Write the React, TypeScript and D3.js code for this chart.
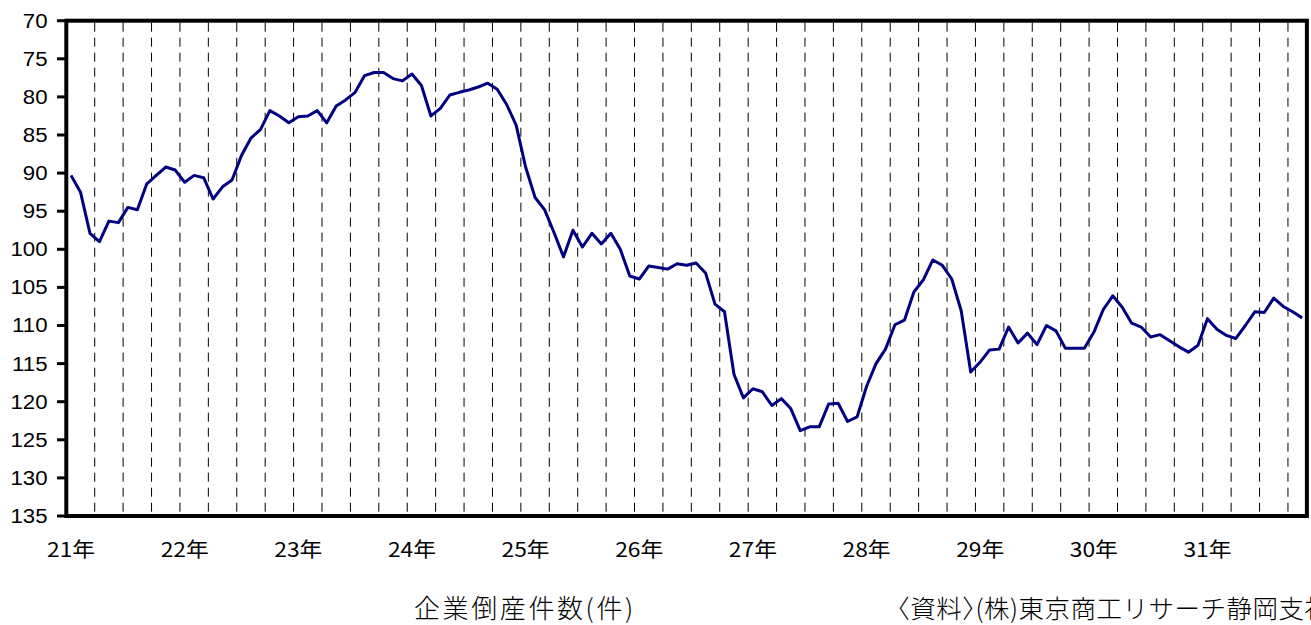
import React from 'react';
import * as d3 from 'd3';

// 企業倒産件数(件) — monthly, 平成21年1月〜31年11月 (axis reversed)
const yearLabels = ['21年', '22年', '23年', '24年', '25年', '26年', '27年', '28年', '29年', '30年', '31年'];
const monthsPerYear = 12;
const values = [
  90.3, 92.5, 97.9, 99.0, 96.3, 96.5, 94.5, 94.8, 91.4, 90.3, 89.2, 89.6,
  91.2, 90.3, 90.6, 93.4, 91.8, 90.9, 87.7, 85.4, 84.3, 81.8, 82.5, 83.4,
  82.6, 82.5, 81.8, 83.4, 81.2, 80.4, 79.4, 77.2, 76.8, 76.8, 77.6, 77.9,
  77.0, 78.5, 82.5, 81.5, 79.75, 79.4, 79.1, 78.7, 78.2, 79.0, 81.0, 83.7,
  89.2, 93.2, 94.8, 97.8, 101.0, 97.5, 99.7, 97.9, 99.3, 97.9, 100.0, 103.5,
  103.9, 102.2, 102.4, 102.6, 101.9, 102.1, 101.8, 103.1, 107.2, 108.2, 116.4, 119.5,
  118.3, 118.7, 120.5, 119.6, 120.9, 123.8, 123.3, 123.3, 120.3, 120.2, 122.6, 122.0,
  118.0, 115.0, 113.1, 109.9, 109.3, 105.6, 104.0, 101.4, 102.1, 103.9, 108.1, 116.1,
  114.8, 113.2, 113.1, 110.2, 112.3, 111.0, 112.5, 110.0, 110.7, 113.0, 113.0, 113.0,
  110.9, 107.9, 106.1, 107.6, 109.7, 110.2, 111.5, 111.2, 112.0, 112.8, 113.5, 112.6,
  109.1, 110.5, 111.3, 111.7, 110.0, 108.2, 108.3, 106.4, 107.5, 108.2, 109.0,
];
const yTicks = [70, 75, 80, 85, 90, 95, 100, 105, 110, 115, 120, 125, 130, 135];
const captionLeft = '企業倒産件数(件)';
const captionRight = '〈資料〉(株)東京商工リサーチ静岡支社';

const W = 1311;
const H = 625;
const plot = { left: 66.3, right: 1306.9, top: 20.7, bottom: 516 };
const stretch = 1.14;

export default function App() {
  const idx = values.map((_, i) => String(i));
  const x = d3.scaleBand<string>().domain(idx).range([plot.left, plot.right]).padding(0);
  const bw = x.bandwidth();
  const cx = (i: number) => (x(String(i)) as number) + bw / 2;
  const y = d3.scaleLinear().domain([70, 135]).range([plot.top, plot.bottom]);

  const line = d3
    .line<number>()
    .x((_, i) => cx(i))
    .y((d) => y(d));

  const grid: number[] = [];
  for (let k = 3; k < values.length; k += 3) grid.push(x(String(k)) as number);

  return (
    <div style={{ position: 'absolute', left: 0, top: 0 }}>
      <svg width={W} height={H} style={{ display: 'block', background: '#fff' }}>
        {grid.map((gx, i) => (
          <line
            key={i}
            x1={gx}
            x2={gx}
            y1={plot.top + 2}
            y2={plot.bottom - 2}
            stroke="#000"
            strokeWidth={1}
            strokeDasharray="9,6"
          />
        ))}
        <path d={line(values) || ''} fill="none" stroke="#000080" strokeWidth={3} strokeLinejoin="round" />
        <rect
          x={plot.left}
          y={plot.top}
          width={plot.right - plot.left}
          height={plot.bottom - plot.top}
          fill="none"
          stroke="#000"
          strokeWidth={4}
        />
        {yTicks.map((t) => (
          <g key={t}>
            <line x1={57} x2={plot.left} y1={y(t)} y2={y(t)} stroke="#000" strokeWidth={3} />
            <text
              transform={`translate(47.5,${y(t)}) scale(${stretch},1)`}
              textAnchor="end"
              dominantBaseline="central"
              fontFamily='"Liberation Sans", Arial, sans-serif'
              fontSize={19.5}
              fill="#000"
            >
              {t}
            </text>
          </g>
        ))}
        {yearLabels.map((lab, yi) => (
          <text
            key={lab}
            transform={`translate(${cx(yi * monthsPerYear)},557) scale(${stretch},1)`}
            textAnchor="middle"
            fontFamily='"Noto Sans CJK JP", sans-serif'
            fontSize={20}
            fill="#000"
          >
            {lab}
          </text>
        ))}
        <text
          x={414}
          y={618}
          fontFamily='"Noto Sans CJK JP", serif'
          fontWeight={300}
          fontSize={26}
          letterSpacing={2.6}
          fill="#000"
        >
          {captionLeft}
        </text>
        <text
          x={897}
          y={618}
          fontFamily='"Noto Sans CJK JP", serif'
          fontWeight={300}
          fontSize={25.5}
          letterSpacing={0.5}
          style={{ fontFeatureSettings: '"halt"' }}
          fill="#000"
        >
          {captionRight}
        </text>
      </svg>
    </div>
  );
}
